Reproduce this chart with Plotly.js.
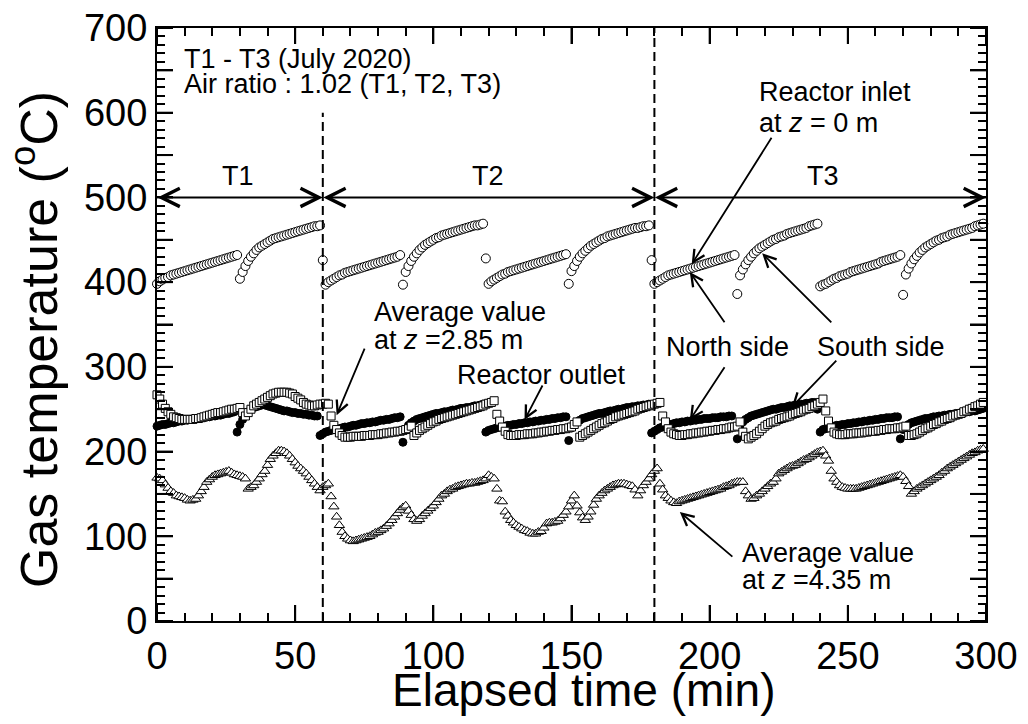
<!DOCTYPE html>
<html><head><meta charset="utf-8">
<script src="https://cdn.plot.ly/plotly-3.0.1.min.js"></script>
<style>html,body{margin:0;padding:0;background:#fff;}#chart{width:1028px;height:724px;}</style>
</head><body><div id="chart"></div>
<script>
const time = [
0,1,2,3,4,5,6,7,8,9,10,11,12,13,14,15,16,17,18,19,20,21,22,23,24,25,26,27,28,29,
30,31,32,33,34,35,36,37,38,39,40,41,42,43,44,45,46,47,48,49,50,51,52,53,54,55,56,57,58,59,
60,61,62,63,64,65,66,67,68,69,70,71,72,73,74,75,76,77,78,79,80,81,82,83,84,85,86,87,88,89,
90,91,92,93,94,95,96,97,98,99,100,101,102,103,104,105,106,107,108,109,110,111,112,113,114,115,116,117,118,119,
120,121,122,123,124,125,126,127,128,129,130,131,132,133,134,135,136,137,138,139,140,141,142,143,144,145,146,147,148,149,
150,151,152,153,154,155,156,157,158,159,160,161,162,163,164,165,166,167,168,169,170,171,172,173,174,175,176,177,178,179,
180,181,182,183,184,185,186,187,188,189,190,191,192,193,194,195,196,197,198,199,200,201,202,203,204,205,206,207,208,209,
210,211,212,213,214,215,216,217,218,219,220,221,222,223,224,225,226,227,228,229,230,231,232,233,234,235,236,237,238,239,
240,241,242,243,244,245,246,247,248,249,250,251,252,253,254,255,256,257,258,259,260,261,262,263,264,265,266,267,268,269,
270,271,272,273,274,275,276,277,278,279,280,281,282,283,284,285,286,287,288,289,290,291,292,293,294,295,296,297,298,299];
const inletTemp = [
398,401,403,405,406,408,409,410,411,412,413,414,415,416,417,418,419,420,421,422,423,424,425,426,427,428,429,430,431,432,
404,412,419,425,430,434,438,441,443,445,447,449,451,452,453,454,455,456,457,458,459,460,461,462,463,464,465,466,466,467,
426,
397,400,402,404,406,408,409,411,412,413,414,415,416,417,418,419,420,421,422,423,424,425,426,427,428,429,430,432,
397,
412,419,425,430,434,438,441,444,446,448,450,452,453,455,456,457,458,459,460,461,462,463,464,465,466,467,467,468,469,
428,
398,401,403,405,407,409,410,412,413,414,415,416,417,418,419,420,421,422,423,424,425,426,427,428,429,430,431,432,433,
398,
413,419,425,430,434,437,440,443,445,447,449,451,452,454,455,456,457,458,459,460,461,462,463,464,464,465,466,466,467,
426,
398,400,402,404,406,408,409,410,411,412,413,414,415,416,417,418,419,420,421,422,423,424,425,426,427,428,429,430,431,432,
386,
408,415,421,426,430,434,437,440,442,444,446,448,450,451,453,454,455,457,458,459,460,461,462,463,464,466,467,468,469,
395,397,398,400,402,404,405,407,408,409,410,412,413,414,415,416,417,418,419,420,421,422,424,425,426,427,428,429,430,432,
385,
409,416,422,427,431,435,438,441,443,445,447,449,450,452,453,454,456,457,458,459,460,461,462,463,464,466,467,468,469];
const outletTemp = [
230,231,232,232,233,234,234,235,236,236,237,237,238,238,239,239,240,240,241,241,242,242,243,243,244,245,245,246,247,
223,
232,238,243,247,250,252,253,254,255,255,254,253,252,251,250,249,248,248,247,246,246,245,245,244,244,243,243,242,242,
219,221,223,224,225,226,227,227,228,229,229,230,231,231,232,233,233,234,234,235,235,236,237,237,238,238,239,240,240,241,
211,
226,231,234,236,238,239,240,241,242,243,244,245,245,246,247,247,248,249,249,250,251,251,252,252,253,254,254,255,256,
223,225,226,227,228,229,229,230,231,231,232,232,233,233,234,234,235,235,236,236,237,237,238,238,239,239,240,240,241,241,
213,
228,232,235,237,239,240,241,242,243,244,245,245,246,247,248,248,249,250,250,251,252,252,253,253,254,254,255,255,256,
222,224,226,228,229,230,231,232,233,234,234,235,235,236,236,237,237,238,238,239,239,239,240,240,240,241,241,241,242,242,
null,
215,
231,235,238,240,242,243,244,245,246,247,248,249,250,250,251,252,252,253,254,254,255,255,256,256,257,257,258,258,
250,
223,226,227,228,229,230,231,231,232,232,233,233,234,234,235,235,236,236,237,237,238,238,239,239,240,240,240,241,241,
215,
226,230,232,234,235,236,237,238,239,239,240,241,241,242,242,243,243,244,244,245,245,246,246,247,247,248,248,249,250,251];
const avg285 = [
267,262,256,251,247,244,241,240,239,238,238,238,238,238,239,239,240,241,242,243,244,245,246,246,247,248,249,250,250,251,
252,246,242,246,250,254,256,258,260,262,264,266,268,269,270,270,270,270,269,268,265,263,261,258,256,255,254,254,255,256,256,257,256,
242,231,226,222,219,217,217,217,218,218,218,218,219,219,219,220,220,220,221,221,222,222,223,223,224,224,225,226,227,230,
219,222,225,227,229,231,233,235,236,238,239,240,241,242,243,244,245,246,247,248,249,250,251,252,253,254,256,257,258,260,
244,236,229,224,220,219,219,219,220,220,220,221,221,221,222,222,223,223,224,224,225,225,226,226,227,227,228,229,232,235,
217,219,221,223,225,227,229,231,233,234,236,238,239,241,242,243,244,245,246,247,248,250,251,252,253,254,255,256,257,258,
242,235,227,223,221,220,219,219,220,220,221,221,222,222,223,223,224,224,225,225,226,226,227,227,228,229,229,230,235,
223,218,215,217,219,221,224,227,230,232,234,235,236,238,239,240,241,242,244,245,246,247,249,250,251,253,254,256,258,262,
248,236,228,223,221,220,220,220,221,221,221,222,222,222,223,223,224,224,224,225,225,226,226,227,227,227,228,228,229,230,
219,219,220,221,223,225,227,228,230,232,233,235,236,238,239,240,242,243,244,245,247,248,250,251,253,254,256,258];
const avg435 = [
169,168,166,161,157,153,151,148,147,146,145,143,142,143,144,148,153,158,164,167,
170,172,173,174,175,176,177,175,173,172,171,170,168,156,158,160,164,168,173,177,
184,191,195,198,201,201,200,198,195,191,187,183,180,177,174,170,166,162,158,154,
158,160,162,147,135,123,113,105,100,97,95,94,95,96,97,98,99,100,102,104,
105,107,109,112,115,119,123,127,131,134,136,130,125,120,118,120,124,127,130,133,
136,140,144,148,150,153,155,156,158,159,160,161,162,162,163,163,164,165,166,168,
172,170,168,156,142,141,129,124,119,116,113,111,109,107,106,104,103,103,105,106,
110,115,116,116,117,118,121,125,129,135,142,148,136,128,122,119,123,129,137,144,
148,151,154,156,158,160,161,162,162,162,161,160,159,155,148,154,160,164,168,173,
177,180,162,155,148,145,142,140,139,141,142,143,144,145,146,147,148,149,150,151,
152,153,154,155,156,158,159,160,162,163,164,164,164,153,148,144,145,148,150,153,
156,159,162,164,168,174,176,178,180,182,183,184,186,188,190,191,193,195,197,199,
200,201,195,189,177,168,164,160,158,157,156,156,156,156,157,158,159,160,161,162,
163,164,165,166,167,168,169,170,171,172,170,165,159,150,153,156,158,160,162,164,
166,168,170,172,175,177,180,182,184,186,188,190,192,194,196,198,199,201,202,203];

// Long (labelled / half-step) tick positions
const xLongTicks = [0,50,100,150,200,250,300];
const yLongTicks = [0,50,100,150,200,250,300,350,400,450,500,550,600,650,700];
const yHiddenLabels = {'50': ' ', '150': ' ', '250': ' ', '350': ' ', '450': ' ', '550': ' ', '650': ' '};

[inletTemp, outletTemp, avg285, avg435].forEach(function(a, i){
  if (a.length !== time.length) throw new Error('series ' + i + ' has length ' + a.length);
});

const F = 'Liberation Sans, Arial, sans-serif';
const black = '#000000';

const traces = [
  {x: time, y: inletTemp, mode: 'markers', type: 'scatter', cliponaxis: false,
   marker: {symbol: 'circle', size: 9, color: '#fff', line: {color: black, width: 1}}},
  {x: time, y: outletTemp, mode: 'markers', type: 'scatter', cliponaxis: false,
   marker: {symbol: 'circle', size: 8, color: black, line: {color: black, width: 1}}},
  {x: time, y: avg285, mode: 'markers', type: 'scatter', cliponaxis: false,
   marker: {symbol: 'square', size: 8, color: '#fff', line: {color: black, width: 1}}},
  {x: time, y: avg435, mode: 'markers', type: 'scatter', cliponaxis: false,
   marker: {symbol: 'triangle-up', size: 9, color: '#fff', line: {color: black, width: 1}}}
];

const tf = {family: F, size: 27, color: black};
function txt(x, y, text, xanchor) {
  return {xref: 'x', yref: 'y', x: x, y: y, text: text, showarrow: false,
          xanchor: xanchor || 'center', yanchor: 'middle', font: tf};
}
function arr(x, y, ax, ay) {
  return {xref: 'x', yref: 'y', axref: 'x', ayref: 'y', x: x, y: y, ax: ax, ay: ay,
          text: '', showarrow: true, arrowhead: 5, arrowsize: 1.3, arrowwidth: 1.8,
          arrowcolor: black, standoff: 0, startstandoff: 0, font: {size: 1}, borderpad: 0};
}
function span(x0, x1) {
  return {xref: 'x', yref: 'y', axref: 'x', ayref: 'y', x: x1, y: 500, ax: x0, ay: 500,
          text: '', showarrow: true, arrowside: 'end+start', arrowhead: 5, startarrowhead: 5,
          arrowsize: 1.8, startarrowsize: 1.8, arrowwidth: 2, arrowcolor: black,
          standoff: 0, startstandoff: 0, font: {size: 1}, borderpad: 0};
}

const annotations = [
  txt(8.9, 664, 'T1 - T3 (July 2020)', 'left'),
  txt(8.9, 634, 'Air ratio : 1.02 (T1, T2, T3)', 'left'),
  txt(29.2, 525, 'T1'), txt(119.7, 525, 'T2'), txt(241, 525, 'T3'),
  txt(217, 624, 'Reactor inlet', 'left'),
  txt(217, 588, 'at <i>z</i> = 0 m', 'left'),
  txt(206.5, 324, 'North side'),
  txt(262, 324, 'South side'),
  txt(139.2, 290, 'Reactor outlet'),
  txt(77.7, 365, 'Average value', 'left'),
  txt(77.7, 332, 'at <i>z</i> =2.85 m', 'left'),
  txt(210.9, 80, 'Average value', 'left'),
  txt(210.9, 48, 'at <i>z</i> =4.35 m', 'left'),
  span(0, 60), span(60, 180), span(180, 300),
  arr(193.5, 421, 222.5, 571),
  arr(192.8, 412, 205.5, 352),
  arr(192.8, 237, 205.5, 300),
  arr(219, 434, 244.2, 352),
  arr(229.7, 252.6, 246, 308),
  arr(133, 237.3, 139.6, 278.6),
  arr(65, 243, 75.2, 322),
  arr(189.2, 128.7, 208.4, 75.5),
  {xref: 'paper', yref: 'paper', x: 0.515, y: -0.116, xanchor: 'center', yanchor: 'middle',
   showarrow: false, text: 'Elapsed time (min)', font: {family: F, size: 46, color: black}},
  {xref: 'paper', yref: 'paper', x: -0.147, y: 0.474, xanchor: 'center', yanchor: 'middle',
   showarrow: false, textangle: -90, text: 'Gas temperature (<sup>o</sup>C)', font: {family: F, size: 52, color: black}}
];

const tickLine = {color: black, width: 2};
const shapes = [
  {type: 'line', xref: 'x', yref: 'y', x0: 60, x1: 60, y0: 0, y1: 600,
   line: {color: black, width: 2, dash: '9px,5px'}},
  {type: 'line', xref: 'x', yref: 'y', x0: 180, x1: 180, y0: 0, y1: 700,
   line: {color: black, width: 2, dash: '9px,5px'}}
];
// long inside ticks on all four sides of the frame
yLongTicks.forEach(function(v){
  shapes.push({type: 'line', xref: 'paper', yref: 'y', xsizemode: 'pixel', xanchor: 0, x0: 0, x1: 16, y0: v, y1: v, line: tickLine});
  shapes.push({type: 'line', xref: 'paper', yref: 'y', xsizemode: 'pixel', xanchor: 1, x0: -16, x1: 0, y0: v, y1: v, line: tickLine});
});
xLongTicks.forEach(function(v){
  shapes.push({type: 'line', xref: 'x', yref: 'paper', ysizemode: 'pixel', yanchor: 0, y0: 0, y1: 16, x0: v, x1: v, line: tickLine});
  shapes.push({type: 'line', xref: 'x', yref: 'paper', ysizemode: 'pixel', yanchor: 1, y0: -16, y1: 0, x0: v, x1: v, line: tickLine});
});

const shortTicks = {ticks: 'inside', ticklen: 8, tickwidth: 1.5, tickcolor: black, tickmode: 'linear', tick0: 0, dtick: 10, showgrid: false};

const layout = {
  width: 1028, height: 724,
  margin: {l: 157, r: 42, t: 28, b: 103},
  paper_bgcolor: '#fff', plot_bgcolor: '#fff',
  showlegend: false,
  font: {family: F, color: black},
  xaxis: {
    range: [0, 300], tickmode: 'linear', tick0: 0, dtick: 50,
    showline: true, linecolor: black, linewidth: 2, mirror: 'ticks',
    ticks: 'inside', ticklen: 16, tickwidth: 2, tickcolor: black,
    showgrid: false, zeroline: false,
    tickfont: {family: F, size: 38, color: black},
    minor: shortTicks
  },
  yaxis: {
    range: [0, 700], tickmode: 'linear', tick0: 0, dtick: 50, labelalias: yHiddenLabels,
    showline: true, linecolor: black, linewidth: 2, mirror: 'ticks',
    ticks: 'inside', ticklen: 16, tickwidth: 2, tickcolor: black,
    showgrid: false, zeroline: false,
    tickfont: {family: F, size: 38, color: black},
    minor: shortTicks
  },
  annotations: annotations,
  shapes: shapes
};

Plotly.newPlot('chart', traces, layout, {displayModeBar: false});
</script>
</body></html>
